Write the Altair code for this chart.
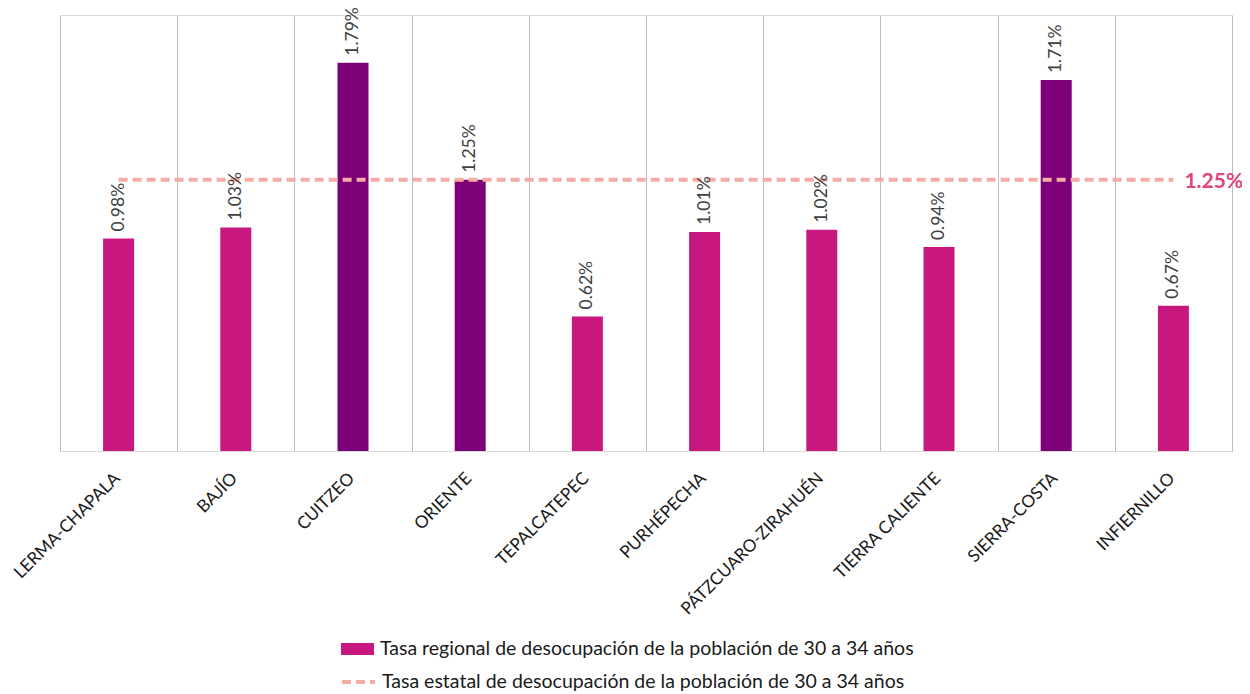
import altair as alt
import pandas as pd

regiones = ["LERMA-CHAPALA", "BAJÍO", "CUITZEO", "ORIENTE", "TEPALCATEPEC",
            "PURHÉPECHA", "PÁTZCUARO-ZIRAHUÉN", "TIERRA CALIENTE", "SIERRA-COSTA", "INFIERNILLO"]
tasa_regional = [0.98, 1.03, 1.79, 1.25, 0.62, 1.01, 1.02, 0.94, 1.71, 0.67]
tasa_estatal = 1.25
serie_regional = "Tasa regional de desocupación de la población de 30 a 34 años"
serie_estatal = "Tasa estatal de desocupación de la población de 30 a 34 años"

PINK = "#C8187F"
PURPLE = "#7C0179"
PEACH = "#F5ADA3"
LABEL_RED = "#E0457B"
FONT = "Lato"

df = pd.DataFrame({
    "region": regiones,
    "valor": tasa_regional,
    "serie": [serie_regional] * len(regiones),
    "etiqueta": [f"{v:.2f}%" for v in tasa_regional],
})
df_line = pd.DataFrame({
    "region": regiones,
    "estatal": [tasa_estatal] * len(regiones),
    "serie2": [serie_estatal] * len(regiones),
})
df_lab = pd.DataFrame({
    "region": [regiones[-1]],
    "estatal": [tasa_estatal],
    "etiqueta": [f"{tasa_estatal:.2f}%"],
})

x_enc = alt.X(
    "region:N", sort=regiones,
    scale=alt.Scale(paddingInner=0, paddingOuter=0),
    axis=alt.Axis(title=None, labelAngle=-45, labelAlign="right", labelBaseline="top",
                  labelFontSize=17.2, labelColor="#1a1a1a", labelFont=FONT, ticks=False,
                  domainColor="#D9D9D9", grid=True, gridColor="#BDBDBD", gridWidth=1,
                  tickBand="extent", labelPadding=18, labelOffset=-8, labelLimit=400),
)
y_scale = alt.Scale(domain=[0, 2.01])

bars = alt.Chart(df).mark_bar(size=31).encode(
    x=x_enc,
    y=alt.Y("valor:Q", scale=y_scale, axis=None),
    color=alt.when(alt.datum.valor >= 1.25).then(alt.value(PURPLE)).otherwise(
        alt.Color("serie:N", scale=alt.Scale(domain=[serie_regional], range=[PINK]),
                  legend=alt.Legend(title=None, orient="none", legendX=284.5, legendY=621,
                                    symbolType="M-1.375,-0.5H1.375V0.5H-1.375Z",
                                    symbolSize=576, labelOffset=9.5, padding=0,
                                    labelFontSize=19.5, labelFont=FONT, labelColor="#1a1a1a",
                                    labelLimit=800))
    ),
)

values = alt.Chart(df).mark_text(angle=270, align="left", baseline="middle", dx=7,
                                 fontSize=17.5, font=FONT, color="#404040").encode(
    x=alt.X("region:N", sort=regiones),
    y=alt.Y("valor:Q", scale=y_scale),
    text="etiqueta:N",
)

line = alt.Chart(df_line).mark_line(strokeDash=[9, 5], strokeWidth=4).encode(
    x=alt.X("region:N", sort=regiones),
    y=alt.Y("estatal:Q", scale=y_scale),
    stroke=alt.Stroke("serie2:N", scale=alt.Scale(domain=[serie_estatal], range=[PEACH]),
                      legend=alt.Legend(title=None, orient="none", legendX=280, legendY=648.5,
                                        symbolType="stroke", symbolSize=1089,
                                        symbolDash=[9, 5], symbolStrokeWidth=4,
                                        labelOffset=5, padding=0,
                                        labelFontSize=19.5, labelFont=FONT, labelColor="#1a1a1a",
                                        labelLimit=800)),
)

lab = alt.Chart(df_lab).mark_text(align="left", baseline="middle", dx=11, dy=2,
                                  fontSize=21, fontWeight="bold", font=FONT,
                                  color=LABEL_RED).encode(
    x=alt.X("region:N", sort=regiones),
    y=alt.Y("estatal:Q", scale=y_scale),
    text="etiqueta:N",
)

chart = alt.layer(bars, line, values, lab).properties(
    width=1172, height=436,
    autosize=alt.AutoSizeParams(type="none"),
    padding={"left": 52, "top": 7, "right": 10, "bottom": 243},
).configure_view(stroke=None).configure(font=FONT)

chart.save("out.html", embed_options={"renderer": "svg", "actions": False})
